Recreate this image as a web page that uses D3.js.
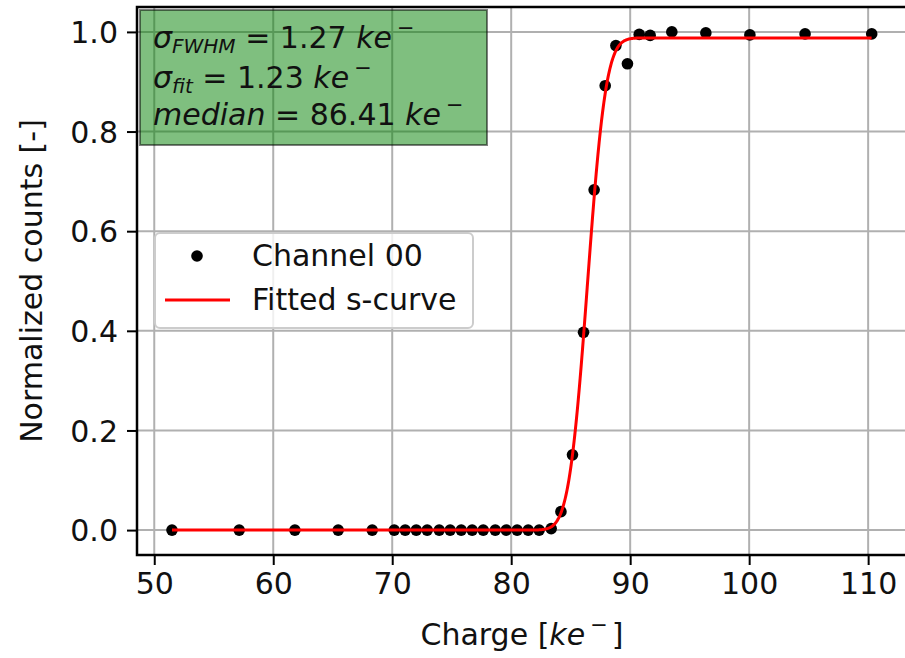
<!DOCTYPE html>
<html>
<head>
<meta charset="utf-8">
<script src="https://cdn.jsdelivr.net/npm/d3@7"></script>
<style>
  html, body { margin: 0; padding: 0; background: #fff; }
  svg { display: block; font-family: "DejaVu Sans", sans-serif; }
</style>
</head>
<body>
<svg id="chart" width="905" height="658"></svg>
<script>
// Measured threshold scan for one channel
const charge = [51.49, 57.14, 61.82, 65.46, 68.32, 70.17, 71.09, 72.02, 72.94, 73.95,
  74.87, 75.80, 76.72, 77.65, 78.66, 79.58, 80.50, 81.43, 82.35, 83.36,
  84.18, 85.15, 86.08, 86.97, 87.90, 88.80, 89.77, 90.76, 91.68, 93.50,
  96.36, 100.06, 104.70, 110.30];
const counts = [0, 0, 0, 0, 0, 0, 0, 0, 0, 0,
  0, 0, 0, 0, 0, 0, 0, 0, 0, 0.003,
  0.037, 0.151, 0.397, 0.683, 0.892, 0.9725, 0.936, 0.995, 0.993, 1.0,
  0.998, 0.994, 0.996, 0.996];

// Fitted s-curve parameters (error-function step)
const fitMedian = 86.41;
const fitSigma = 1.23;
const fitAmplitude = 0.988;

const xTicks = [50, 60, 70, 80, 90, 100, 110];
const yTicks = [0.0, 0.2, 0.4, 0.6, 0.8, 1.0];

const svg = d3.select("#chart");
const plotL = 137, plotR = 908, plotT = 7, plotB = 555;
const FS = 30;

const x = d3.scaleLinear().domain([48.55, 113.35]).range([plotL, plotR]);
const y = d3.scaleLinear().domain([-0.05, 1.05]).range([plotB, plotT]);

// grid
const grid = svg.append("g").attr("stroke", "#b0b0b0").attr("stroke-width", 2);
xTicks.forEach(t => grid.append("line").attr("x1", x(t)).attr("x2", x(t)).attr("y1", plotT).attr("y2", plotB));
yTicks.forEach(t => grid.append("line").attr("x1", plotL).attr("x2", plotR).attr("y1", y(t)).attr("y2", y(t)));

// axes
const xAxis = d3.axisBottom(x).tickValues(xTicks).tickFormat(d3.format("d")).tickSizeOuter(0).tickSize(10).tickPadding(8);
const yAxis = d3.axisLeft(y).tickValues(yTicks).tickFormat(d3.format(".1f")).tickSizeOuter(0).tickSize(10).tickPadding(9);

const gx = svg.append("g").attr("transform", `translate(0,${plotB})`).call(xAxis);
const gy = svg.append("g").attr("transform", `translate(${plotL},0)`).call(yAxis);
[gx, gy].forEach(g => {
  g.select(".domain").remove();
  g.selectAll(".tick line").attr("stroke", "#000").attr("stroke-width", 2);
  g.selectAll(".tick text").attr("fill", "#111").attr("font-size", FS)
    .attr("font-family", "DejaVu Sans");
});
gy.selectAll(".tick text").attr("dy", "0.36em");

// data points
svg.append("g").selectAll("circle").data(charge).join("circle")
  .attr("cx", d => x(d)).attr("cy", (d, i) => y(counts[i]))
  .attr("r", 5.8).attr("fill", "#000");

// fitted curve
function erf(v) {
  const s = v < 0 ? -1 : 1; v = Math.abs(v);
  const t = 1 / (1 + 0.3275911 * v);
  const p = t * (0.254829592 + t * (-0.284496736 + t * (1.421413741 + t * (-1.453152027 + t * 1.061405429))));
  return s * (1 - p * Math.exp(-v * v));
}
const sCurve = q => fitAmplitude * 0.5 * (1 + erf((q - fitMedian) / (Math.SQRT2 * fitSigma)));
const qs = d3.range(charge[0], charge[charge.length - 1] + 0.001, 0.05);
svg.append("path").datum(qs)
  .attr("d", d3.line().x(d => x(d)).y(d => y(sCurve(d))))
  .attr("fill", "none").attr("stroke", "#ff0000").attr("stroke-width", 3);

// frame
svg.append("rect").attr("x", plotL).attr("y", plotT).attr("width", plotR - plotL).attr("height", plotB - plotT)
  .attr("fill", "none").attr("stroke", "#000").attr("stroke-width", 2.5);

// unit "ke⁻" written as math: italic ke, raised minus
function unit(t) {
  t.append("tspan").attr("font-style", "italic").text("ke");
  t.append("tspan").attr("font-size", 21).attr("dx", 5).attr("dy", -13).text("\u2212");
}

// axis labels
svg.append("text").attr("x", 522).attr("y", 645)
  .attr("text-anchor", "middle").attr("font-size", FS).attr("fill", "#111")
  .call(t => {
    t.append("tspan").text("Charge [");
    unit(t);
    t.append("tspan").attr("dx", 4).attr("dy", 13).text("]");
  });
svg.append("text").attr("transform", `translate(42,${(plotT + plotB) / 2}) rotate(-90)`)
  .attr("text-anchor", "middle").attr("font-size", FS).attr("fill", "#111")
  .text("Normalized counts [-]");

// legend
const lg = svg.append("g");
lg.append("rect").attr("x", 155).attr("y", 233).attr("width", 318).attr("height", 95).attr("rx", 5)
  .attr("fill", "#fff").attr("fill-opacity", 0.8).attr("stroke", "#cccccc").attr("stroke-width", 2);
lg.append("circle").attr("cx", 197).attr("cy", 256).attr("r", 5.8).attr("fill", "#000");
lg.append("line").attr("x1", 165).attr("x2", 230).attr("y1", 300).attr("y2", 300)
  .attr("stroke", "#ff0000").attr("stroke-width", 3);
lg.append("text").attr("x", 252).attr("y", 266).attr("font-size", FS).attr("fill", "#111").text("Channel 00");
lg.append("text").attr("x", 252).attr("y", 310).attr("font-size", FS).attr("fill", "#111").text("Fitted s-curve");

// fit summary box
const bx = svg.append("g");
bx.append("rect").attr("x", 140).attr("y", 10).attr("width", 347).attr("height", 135)
  .attr("fill", "#008000").attr("fill-opacity", 0.5)
  .attr("stroke", "#000").attr("stroke-opacity", 0.5).attr("stroke-width", 2);
const lines = [
  { sym: "\u03c3", sub: "FWHM", val: "1.27", y: 48 },
  { sym: "\u03c3", sub: "fit", val: "1.23", y: 88 },
  { sym: "median", sub: null, val: "86.41", y: 125 }
];
lines.forEach(l => {
  const t = bx.append("text").attr("x", 153).attr("y", l.y).attr("font-size", FS).attr("fill", "#111");
  t.append("tspan").attr("font-style", "italic").text(l.sym);
  if (l.sub) {
    t.append("tspan").attr("font-style", "italic").attr("font-size", 20).attr("dy", 5).text(l.sub);
    t.append("tspan").attr("dy", -5).text(" = " + l.val + " ");
  } else {
    t.append("tspan").text(" = " + l.val + " ");
  }
  unit(t);
});
</script>
</body>
</html>
